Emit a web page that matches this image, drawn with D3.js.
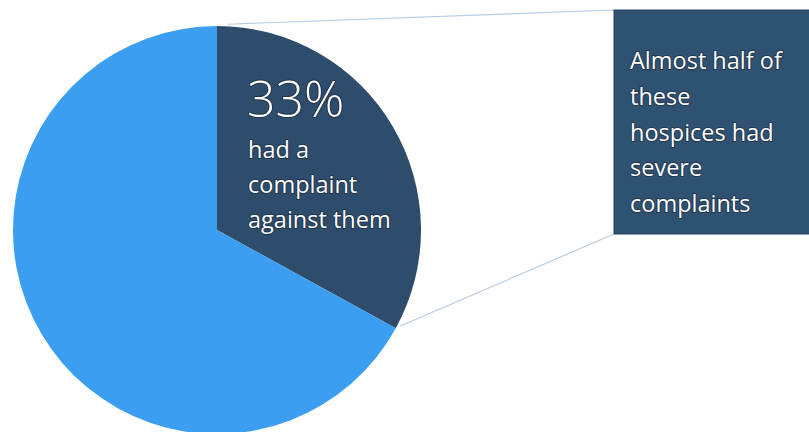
<!DOCTYPE html>
<html>
<head>
<meta charset="utf-8">
<script src="https://cdn.jsdelivr.net/npm/d3@7"></script>
<style>
  body { margin: 0; background: #fff; }
  svg text { font-family: "Open Sans", "Noto Sans", sans-serif; fill: #fff; }
  .glow { paint-order: stroke; stroke: rgba(20,30,45,0.55); stroke-width: 2px; stroke-linejoin: round; }
</style>
</head>
<body>
<div id="chart"></div>
<script>
// slices, clockwise from 12 o'clock
const categories = ["Complaint", "No complaint"];
const values = [33, 67];
const colors = ["#2e4d6d", "#3c9ef0"];
const pctLabel = "33%";
const sliceLines = ["had a", "complaint", "against them"];
const boxLines = ["Almost half of", "these", "hospices had", "severe", "complaints"];

const width = 809, height = 432;
const cx = 217, cy = 230, radius = 204;

const svg = d3.select("#chart").append("svg")
    .attr("width", width)
    .attr("height", height);

const pie = d3.pie().sort(null).value(d => d);
const arcs = pie(values);
const arc = d3.arc().innerRadius(0).outerRadius(radius);

const g = svg.append("g").attr("transform", `translate(${cx},${cy})`);

g.selectAll("path.slice")
    .data(arcs)
    .enter().append("path")
    .attr("class", "slice")
    .attr("d", arc)
    .attr("fill", (d, i) => colors[i]);

// callout box
const box = { x: 614, y: 10, w: 196, h: 224 };

// connector lines from the dark slice edge to the box corners
const pt = a => [cx + radius * Math.sin(a), cy - radius * Math.cos(a)];
const startPt = pt(arcs[0].startAngle + 0.05);
const endPt = pt(arcs[0].endAngle);
svg.append("line")
    .attr("x1", startPt[0]).attr("y1", startPt[1] - 2)
    .attr("x2", box.x).attr("y2", box.y)
    .attr("stroke", "#b7cce2").attr("stroke-width", 1.2);
svg.append("line")
    .attr("x1", endPt[0] + 4).attr("y1", endPt[1] - 2)
    .attr("x2", box.x).attr("y2", box.y + box.h)
    .attr("stroke", "#b7cce2").attr("stroke-width", 1.2);

svg.append("rect")
    .attr("x", box.x).attr("y", box.y)
    .attr("width", box.w).attr("height", box.h)
    .attr("fill", "#305272")
    .attr("stroke", "#26405a").attr("stroke-width", 1);

// slice label
svg.append("text")
    .attr("class", "glow")
    .attr("x", 247).attr("y", 117)
    .attr("font-size", 50)
    .attr("font-weight", 300)
    .text(pctLabel);

svg.selectAll("text.sl")
    .data(sliceLines)
    .enter().append("text")
    .attr("class", "sl glow")
    .attr("x", 248)
    .attr("y", (d, i) => 158 + i * 35)
    .attr("font-size", 23.5)
    .attr("font-weight", 400)
    .text(d => d);

svg.selectAll("text.bl")
    .data(boxLines)
    .enter().append("text")
    .attr("class", "bl glow")
    .attr("x", 630)
    .attr("y", (d, i) => 69 + i * 35.8)
    .attr("font-size", 23.5)
    .attr("font-weight", 400)
    .text(d => d);
</script>
</body>
</html>
